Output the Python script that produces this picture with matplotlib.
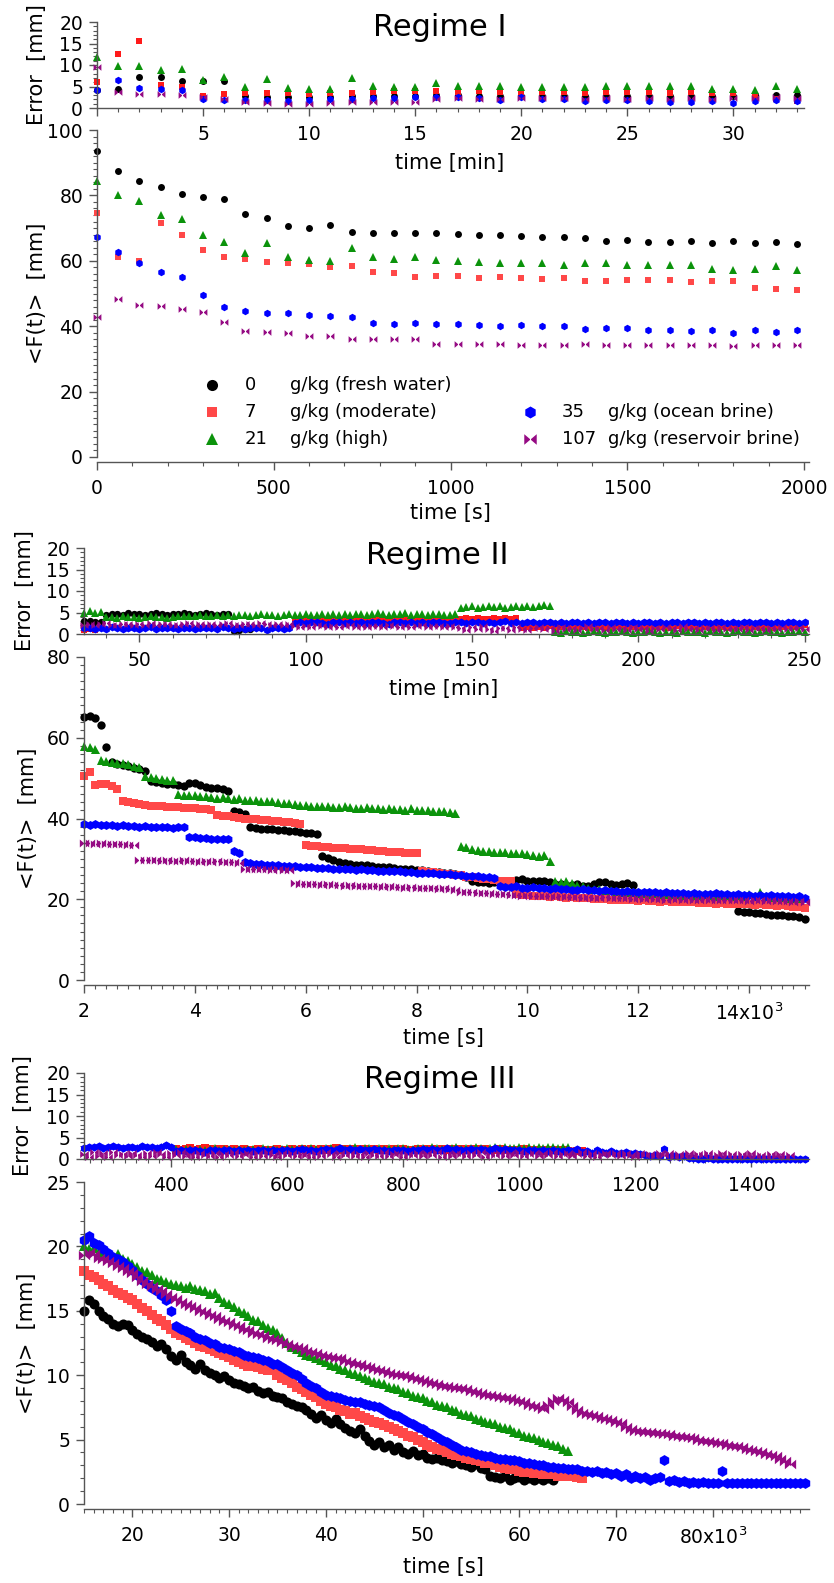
import numpy as np
import matplotlib
matplotlib.use('Agg')
import matplotlib.pyplot as plt
from matplotlib.path import Path
from matplotlib.lines import Line2D
from matplotlib.ticker import MultipleLocator, FuncFormatter

# ---------------- Regime I : one point per minute ----------------
t1_min = list(range(34))

f1_black = [93.5, 87.4, 84.3, 82.6, 80.4, 79.6, 78.9, 74.4, 73.2, 70.5,
            70.0, 70.8, 68.8, 68.4, 68.4, 68.4, 68.4, 68.1, 68.0, 67.9,
            67.7, 67.4, 67.4, 67.1, 66.2, 66.3, 65.9, 65.9, 66.2, 65.4,
            66.2, 65.4, 65.6, 65.0]
f1_red = [74.6, 61.1, 60.0, 71.5, 67.9, 63.3, 61.1, 60.5, 59.5, 59.2,
          59.0, 58.2, 58.5, 56.7, 56.4, 55.1, 55.4, 55.3, 54.6, 55.1,
          54.6, 54.3, 54.6, 53.8, 53.9, 54.1, 54.1, 54.1, 53.6, 53.9,
          53.9, 51.8, 51.5, 51.2]
f1_green = [84.3, 80.0, 78.2, 73.9, 72.7, 67.9, 65.9, 62.5, 65.4, 61.1,
            60.2, 60.0, 63.8, 61.3, 60.4, 61.1, 60.2, 59.9, 59.7, 59.4,
            59.4, 59.2, 58.8, 59.2, 59.2, 58.6, 58.8, 58.8, 58.6, 57.4,
            57.2, 57.4, 58.5, 57.2]
f1_blue = [67.2, 62.6, 59.2, 56.6, 54.9, 49.6, 45.9, 44.5, 44.1, 44.1,
           43.3, 43.1, 42.7, 41.1, 40.8, 41.0, 40.8, 40.8, 40.4, 40.0,
           40.3, 40.1, 40.1, 39.2, 39.3, 39.4, 38.7, 38.7, 38.4, 38.7,
           38.0, 38.7, 38.3, 38.7]
f1_purple = [42.8, 48.2, 46.5, 46.2, 45.3, 44.2, 41.4, 38.5, 38.2, 37.9,
             37.0, 36.9, 36.2, 36.2, 36.2, 36.1, 34.7, 34.6, 34.5, 34.6,
             34.3, 34.4, 34.4, 34.6, 34.1, 34.2, 34.1, 34.1, 34.1, 34.1,
             34.0, 34.1, 34.2, 34.1]

e1_black = [4.2, 4.4, 7.2, 7.3, 6.2, 6.2, 6.2, 2.8, 2.6, 2.5,
            2.5, 2.6, 2.7, 2.8, 2.8, 2.9, 3.0, 3.0, 2.9, 2.8,
            2.9, 2.9, 2.8, 2.7, 2.8, 2.9, 2.8, 2.8, 2.9, 2.8,
            2.9, 3.1, 3.1, 3.1]
e1_red = [6.1, 12.6, 15.6, 5.4, 4.8, 2.7, 3.2, 3.5, 3.5, 3.4,
          3.3, 3.4, 3.6, 3.8, 3.9, 3.9, 4.0, 3.8, 3.9, 3.8,
          3.7, 3.8, 3.7, 3.6, 3.8, 3.7, 3.8, 3.6, 3.7, 3.5,
          3.4, 3.0, 2.0, 1.6]
e1_green = [11.9, 9.8, 9.8, 8.8, 9.1, 6.5, 7.2, 4.8, 6.8, 4.6,
            4.5, 4.4, 7.0, 5.2, 5.0, 5.0, 5.8, 5.2, 5.2, 5.2,
            4.8, 5.0, 5.0, 5.0, 5.2, 5.2, 5.2, 5.2, 5.2, 4.4,
            4.5, 4.2, 5.2, 4.4]
e1_blue = [4.3, 6.4, 4.6, 4.4, 4.1, 2.2, 1.9, 1.9, 1.9, 1.7,
           1.8, 2.1, 2.1, 2.4, 2.4, 2.5, 2.6, 2.5, 2.4, 1.9,
           2.5, 2.1, 2.2, 1.7, 1.8, 1.8, 1.6, 1.5, 1.5, 1.7,
           1.2, 1.6, 1.9, 1.7]
e1_purple = [9.5, 3.8, 3.3, 3.3, 3.1, 2.5, 2.2, 1.3, 1.2, 1.0,
             1.0, 1.2, 1.3, 1.5, 1.5, 1.5, 2.2, 2.3, 2.2, 2.2,
             2.4, 2.3, 2.3, 2.2, 2.3, 2.2, 2.3, 2.2, 2.3, 2.2,
             2.3, 2.4, 2.5, 2.3]

# ---------------- Regime II : 100 s sampling, (start [s], values) ----------------
f2_black = [
    (2000, [65.2, 65.3, 64.9, 63.2, 57.6, 54.0, 53.6, 53.3, 52.9, 52.6,
            52.2, 51.8, 49.3, 49.1, 48.8, 48.6, 48.5, 48.2, 48.0, 48.8,
            48.7, 48.3, 47.9, 47.6, 47.5, 47.3, 46.8, 41.8, 41.5, 41.1,
            37.8, 37.6, 37.5, 37.4, 37.3, 37.2, 37.2, 37.0, 36.8, 36.6,
            36.4, 36.3, 36.1, 30.8, 30.1, 29.6, 29.2, 28.9, 28.7, 28.6,
            28.6, 28.4, 28.2, 28.0, 27.9, 27.9, 27.7, 27.6, 27.5, 27.4,
            27.3, 27.2, 27.0, 26.8, 26.8, 26.6, 26.5, 26.3, 26.0, 25.4,
            24.5, 24.2, 24.2, 24.0, 24.3]),
    (9800, [24.8, 24.9, 24.6, 24.5, 24.6, 24.4, 24.3, 23.8, 23.9, 23.6,
            23.5, 23.8, 23.4, 23.3, 23.9, 24.2, 24.3, 23.8, 23.6, 23.9,
            24.1, 23.6]),
    (13800, [17.0, 16.9, 16.8, 16.6, 16.5, 16.4, 16.2, 16.1, 16.0, 15.9,
             15.9, 15.6, 15.1]),
]
f2_red = [
    (2000, [50.6, 51.5, 48.3, 48.6, 48.5, 48.0, 47.2, 44.3, 44.0, 43.8,
            43.5, 43.4, 43.2, 43.1, 43.0, 42.9, 42.8, 42.8, 42.6, 42.7,
            42.5, 42.4, 42.3, 42.2]),
    (4400, [40.8, 40.6, 40.5, 40.3, 40.2, 40.0, 39.9, 39.8, 39.7, 39.6,
            39.4, 39.3, 39.2, 39.1, 38.9, 38.6]),
    (6000, [33.4, 33.2, 33.1, 33.0, 32.9, 32.8, 32.8, 32.6, 32.5, 32.4,
            32.4, 32.2, 32.1, 32.0, 31.9, 31.8, 31.7, 31.6, 31.5, 31.5,
            31.4]),
    (8100, [27.0, 26.8, 26.7, 26.5, 26.3, 26.2, 26.0, 25.9, 25.6, 25.4,
            25.3, 25.1, 24.9, 24.8, 24.6, 24.5, 24.4]),
    (9800, [21.2, 21.0, 21.1, 20.9, 20.8, 20.8, 20.6, 20.7, 20.5, 20.4,
            20.6, 20.3, 20.2, 20.3, 20.1, 20.0, 20.1, 19.9, 19.8, 19.9,
            19.8, 19.7, 19.6, 19.7, 19.5, 19.6, 19.4, 19.5, 19.3, 19.4,
            19.3, 19.2, 19.3, 19.1, 19.0, 19.1, 18.9, 19.0, 18.9, 18.8,
            18.9, 18.7, 18.8, 18.6, 18.7, 18.5, 18.6, 18.4, 18.5, 18.3,
            18.2, 18.0, 17.8]),
]
f2_green = [
    (2000, [58.0, 57.8, 57.1]),
    (2300, [54.4, 54.2, 54.0, 53.8, 53.7, 53.4, 53.1, 52.7]),
    (3100, [50.6, 50.4, 50.1, 49.8, 49.6, 49.5]),
    (3700, [46.0, 45.9, 45.8, 45.8, 45.6, 45.5, 45.4, 45.2, 45.3, 45.0,
            44.9, 45.0, 44.7, 44.6, 44.6, 44.4, 44.3, 44.3, 44.1, 43.9,
            43.8, 43.5, 43.4, 43.3, 43.1, 43.0, 43.2, 43.0, 42.9, 42.9,
            43.1, 42.8, 42.7, 42.7, 42.9, 42.6, 42.5, 42.4, 42.7, 42.3,
            42.3, 42.2, 42.5, 42.1, 42.0, 42.2, 41.9, 41.8, 41.8, 41.5,
            41.3]),
    (8800, [33.2, 33.0, 32.5, 32.3, 32.0, 31.9, 31.8, 31.7, 31.6, 31.5,
            31.5, 31.4, 31.3, 31.0, 30.8, 30.9, 29.5]),
    (10500, [24.6, 24.3, 24.5, 24.0, 23.6, 23.2, 22.9, 22.6, 22.5, 22.3,
             22.2, 22.0, 21.9, 21.8, 21.8, 21.6]),
    (12100, [21.5, 21.4, 21.6, 21.3, 21.4, 21.2, 21.3, 21.1, 21.2, 21.0,
             21.1, 21.2, 21.0, 20.9, 21.1, 21.0, 20.8, 21.0, 20.9, 21.2,
             20.8, 21.7, 20.7, 20.6, 20.5, 20.6, 20.4, 20.3, 20.2]),
]
f2_blue = [
    (2000, [38.6, 38.5, 38.6, 38.4, 38.3, 38.4, 38.2, 38.3, 38.1, 38.2,
            38.0, 38.1, 37.9, 38.0, 37.8, 37.9, 37.6, 37.8, 37.9]),
    (3900, [35.5, 35.3, 35.2, 35.1, 35.0, 34.9, 34.8, 34.9]),
    (4700, [32.0, 31.4]),
    (4900, [29.3, 29.0, 28.8, 28.8, 28.6, 28.5, 28.4, 28.3, 28.2, 28.2,
            28.0, 27.9, 27.9, 27.8, 27.7, 27.8, 27.6, 27.5, 27.6, 27.4,
            27.3, 27.4, 27.2, 27.2, 27.1, 27.0, 27.1, 26.9, 26.9, 26.8,
            26.7, 26.6, 26.6, 26.5, 26.4, 26.3, 26.2, 26.2, 26.0, 25.9,
            25.8, 25.8, 25.7, 25.6, 25.5, 25.3]),
    (9500, [23.4, 23.1, 23.0, 23.2, 22.9, 22.8, 23.0, 22.7, 22.8, 22.6,
            22.7, 22.5, 22.6, 22.4, 22.3, 22.5, 22.2, 22.3, 22.1, 22.2,
            22.0, 22.1, 21.9, 22.0, 21.8, 21.9, 21.8, 21.7, 21.9, 21.6,
            21.7, 21.5, 21.6, 21.5, 21.4, 21.6, 21.3, 21.4, 21.2, 21.5,
            21.3, 21.2, 21.1, 21.3, 21.0, 21.1, 20.9, 21.0, 20.8, 21.1,
            20.9, 20.7, 20.8, 20.6, 20.7, 20.4]),
]
f2_purple = [
    (2000, [34.0, 33.9, 33.8, 33.9, 33.7, 33.8, 33.6, 33.7, 33.5, 33.5]),
    (3000, [29.8, 29.7, 29.6, 29.7, 29.5, 29.6, 29.5, 29.4, 29.6, 29.5,
            29.4, 29.3, 29.5, 29.3, 29.4, 29.2, 29.3, 29.2, 29.1]),
    (4900, [27.6, 27.5, 27.6, 27.4, 27.5, 27.3, 27.4, 27.3, 27.2]),
    (5800, [24.1, 23.9, 23.8, 23.9, 23.7, 23.6, 23.7, 23.5, 23.6, 23.4,
            23.5, 23.3, 23.4, 23.3, 23.2, 23.3, 23.1, 23.2, 23.0, 23.1,
            22.9, 23.0, 22.8, 22.9, 22.7, 22.8, 22.6, 22.7, 22.5, 22.4]),
    (8800, [21.9, 21.7, 21.8, 21.6, 21.5, 21.6, 21.4, 21.3, 21.4]),
    (9700, [21.1, 21.0, 20.9, 21.0, 20.8, 20.9, 20.7, 20.8, 20.6, 20.7,
            20.6, 20.5, 20.6, 20.4, 20.5, 20.4, 20.3, 20.5, 20.3, 20.2,
            20.4, 20.2, 20.1, 20.3, 20.1, 20.2, 20.0, 20.1, 19.9, 20.1,
            20.0, 19.9, 20.0, 19.8, 19.9, 20.0, 19.8, 19.9, 19.7, 19.9,
            19.8, 19.7, 19.8, 19.6, 19.8, 19.7, 19.6, 19.7, 19.5, 19.6,
            19.5, 19.4, 19.5, 19.3]),
]

e2_black = [
    (2000, [3.0, 3.1, 2.9, 2.8]),
    (2400, [4.4, 4.6, 4.7, 4.5, 4.8, 4.6, 4.7, 4.5, 4.6, 4.8,
            4.7, 4.5, 4.6, 4.7, 4.9, 4.6, 4.5, 4.7, 4.8, 4.6,
            4.5, 4.7, 4.6]),
    (4700, [0.8, 1.0, 1.1, 1.2]),
]
e2_red = [
    (2000, [1.0, 1.2, 0.9]),
    (5800, [3.2, 3.4, 3.3, 3.1, 3.4, 3.2, 3.3, 3.5, 3.2, 3.3,
            3.4, 3.2, 3.3, 3.1, 3.4, 3.3, 3.2, 3.4, 3.3, 3.5,
            3.2, 3.3, 3.4, 3.2, 3.3, 3.1, 3.4, 3.3, 3.2, 3.4]),
    (8800, [3.5, 3.7, 3.6, 3.8, 3.5, 3.6, 3.7, 3.5, 3.8, 3.6, 3.7]),
    (9900, [1.5, 1.7, 1.4, 1.6, 1.5, 1.8, 1.4, 1.6, 1.5, 1.7,
            1.4, 1.6, 1.5, 1.7, 1.6, 1.4, 1.5, 1.8, 1.6, 1.5,
            1.7, 1.4, 1.6, 1.5, 1.7, 1.6, 1.4, 1.5, 1.8, 1.6,
            1.5, 1.7, 1.4, 1.6, 1.5, 1.7, 1.6, 1.4, 1.5, 1.8,
            1.6, 1.5, 1.7, 1.4, 1.6, 1.5, 1.7, 1.6, 1.8, 1.7,
            1.9, 2.0]),
]
e2_green = [
    (2000, [5.0, 5.3, 4.8, 5.2]),
    (2400, [3.9, 4.0, 3.8, 4.1, 3.9, 4.0, 3.8, 3.9, 4.1, 4.0,
            3.9, 3.8, 4.0]),
    (3700, [4.2, 4.3, 4.1, 4.3, 4.4, 4.2, 4.3, 4.5, 4.3, 4.4,
            4.2, 4.4, 4.5, 4.3, 4.4, 4.6, 4.4, 4.5, 4.3, 4.5,
            4.6, 4.4, 4.5, 4.7, 4.5, 4.4, 4.6, 4.5, 4.7, 4.5,
            4.6, 4.4, 4.6, 4.7, 4.5, 4.6, 4.8, 4.6, 4.5, 4.7,
            4.6, 4.8, 4.5, 4.7, 4.6, 4.5, 4.7, 4.6, 4.5, 4.4,
            4.6]),
    (8800, [6.0, 6.2, 6.4, 6.1, 6.3, 6.5, 6.2, 6.4, 6.1, 6.3,
            6.6, 6.2, 6.4, 6.3, 6.5, 6.7, 6.4]),
    (10500, [0.5, 0.3, 0.6, 0.4, 0.5, 0.3, 0.4, 0.6, 0.5, 0.3,
             0.4, 0.5, 0.6, 0.4, 0.3, 0.5, 0.4, 0.6, 0.5, 0.3,
             0.4, 0.5, 0.3, 0.6, 0.4, 0.5, 0.4, 0.3, 0.6, 0.5,
             0.4, 0.3, 0.5, 0.6, 0.4, 0.5, 0.3, 0.4, 0.6, 0.5,
             0.4, 0.3, 0.5, 0.4, 0.6, 0.5]),
]
e2_blue = [
    (2000, [1.3, 1.5, 1.2, 1.4, 1.1, 1.6, 1.3, 1.2, 1.5, 1.4,
            1.2, 1.3, 1.6, 1.1, 1.4, 1.3, 1.5, 1.2, 1.4, 1.3,
            1.1, 1.5, 1.3, 1.4, 1.2, 1.6, 1.3, 1.1, 1.4, 1.2,
            1.5, 1.3, 1.4, 1.0, 1.3, 1.5, 1.2, 1.4]),
    (5800, [2.6, 2.8, 2.5, 2.7, 2.9, 2.6, 2.4, 2.7, 2.8, 2.5,
            2.7, 2.6, 2.9, 2.5, 2.7, 2.8, 2.6, 2.4, 2.7, 2.9,
            2.6, 2.8, 2.5, 2.7, 2.6, 2.8, 2.9, 2.6, 2.5, 2.7,
            2.8, 2.6, 2.9, 2.7, 2.5, 2.8, 2.6, 2.7, 3.0, 2.6,
            2.8, 2.5, 2.7, 2.9, 2.6, 2.8, 2.7, 2.5, 2.8, 2.6,
            2.9, 2.7, 2.6, 2.8, 2.5, 2.7, 2.9, 2.6, 2.8, 2.7,
            2.5, 2.8, 2.6, 2.9, 2.7, 2.6, 2.8, 2.5, 2.7, 2.9,
            2.6, 2.8, 2.7, 2.5, 2.8, 2.6, 2.9, 2.7, 2.6, 2.8,
            2.5, 2.7, 2.9, 2.6, 2.8, 2.7, 2.5, 2.8, 2.6, 2.7,
            2.9, 2.6, 2.7]),
]
e2_purple = [
    (2000, [2.2, 2.4, 2.1, 2.3, 2.5, 2.2, 2.0, 2.3, 2.4, 2.1,
            2.3, 2.2, 2.5, 2.1, 2.3, 2.4, 2.2, 2.0, 2.3, 2.5,
            2.2, 2.4, 2.1, 2.3, 2.2, 2.4, 2.5, 2.2, 2.1, 2.3,
            2.4, 2.2, 2.5, 2.3, 2.1, 2.4, 2.2, 2.3]),
    (5800, [1.8, 1.6, 1.9, 1.7, 2.0, 1.8, 1.6, 1.9, 1.7, 1.8,
            2.0, 1.7, 1.8, 1.6, 1.9, 1.8, 1.7, 2.0, 1.8, 1.6,
            1.9, 1.7, 1.8, 2.0, 1.7, 1.9, 1.8, 1.6, 1.9, 1.7]),
    (8800, [1.3, 0.9, 1.6, 1.1, 1.8, 1.2, 0.8, 1.5, 1.3, 1.0,
            1.7, 1.2, 0.9, 1.4, 1.6, 1.1, 1.3, 0.8, 1.7, 1.2,
            1.5, 1.0, 1.3, 1.8, 1.1, 1.4, 0.9, 1.6, 1.2, 1.3,
            1.0, 1.7, 1.2, 1.5, 0.8, 1.4, 1.1, 1.6, 1.3, 0.9,
            1.8, 1.2, 1.4, 1.0, 1.5, 1.3, 0.9, 1.7, 1.1, 1.4,
            1.2, 1.6, 1.0, 1.3, 1.5, 0.9, 1.4, 1.2, 1.7, 1.1,
            1.3, 1.5, 1.2]),
]

# ---------------- Regime III : 500 s sampling, (start [s], values) ----------------
f3_black = [(15000, [
    15.0, 15.8, 15.5, 15.0, 14.6, 14.4, 14.0, 13.8, 14.0, 13.9,
    13.5, 13.2, 13.0, 12.8, 12.6, 12.3, 12.4, 12.0, 11.5, 11.2,
    11.6, 11.0, 10.8, 10.5, 10.9, 10.4, 10.2, 10.0, 9.8, 9.9,
    9.6, 9.4, 9.3, 9.2, 9.0, 9.1, 8.8, 8.6, 8.7, 8.4,
    8.3, 8.2, 7.9, 7.8, 7.6, 7.5, 7.3, 7.0, 6.7, 6.9,
    6.5, 6.3, 6.6, 6.2, 5.9, 5.7, 5.5, 5.8, 5.3, 4.9,
    4.6, 4.8, 4.4, 4.6, 4.2, 4.4, 4.0, 3.9, 4.1, 3.8,
    3.9, 3.6, 3.5, 3.6, 3.4, 3.3, 3.2, 3.3, 3.1, 3.0,
    2.9, 3.1, 2.8, 2.7, 2.2, 2.1, 2.0, 2.2, 1.9, 2.0,
    2.1, 1.9, 2.0, 1.9, 2.0, 1.9, 2.0, 1.9])]
f3_red = [(15000, [
    18.1, 17.8, 17.6, 17.4, 17.1, 16.9, 16.6, 16.4, 16.2, 16.0,
    15.8, 15.5, 15.2, 15.0, 14.7, 14.4, 14.2, 13.9, 13.6, 13.3,
    13.1, 12.9, 12.7, 12.5, 12.3, 12.2, 12.0, 11.9, 11.7, 11.6,
    11.4, 11.2, 11.0, 10.9, 10.7, 10.8, 10.6, 10.5, 10.4, 10.5,
    10.0, 9.8, 9.6, 9.4, 9.1, 8.9, 8.7, 8.5, 8.3, 8.0,
    7.8, 7.6, 7.5, 7.3, 7.2, 7.0, 7.1, 6.8, 6.7, 6.5,
    6.4, 6.3, 6.1, 6.0, 5.8, 5.7, 5.5, 5.3, 5.2, 5.0,
    4.8, 4.6, 4.4, 4.3, 4.2, 4.0, 3.9, 3.8, 3.7, 3.6,
    3.5, 3.4, 3.3, 3.2, 3.2, 3.0, 2.9, 2.8, 2.7, 2.7,
    2.6, 2.5, 2.5, 2.4, 2.4, 2.3, 2.3, 2.3, 2.2, 2.3,
    2.2, 2.2, 2.1, 2.0])]
f3_green = [(15000, [
    20.0, 19.8, 19.9, 19.6, 19.4, 19.5, 19.2, 19.4, 19.0, 18.9,
    18.6, 18.4, 18.1, 18.0, 17.8, 17.5, 17.4, 17.2, 17.1, 17.0,
    16.9, 16.8, 16.9, 16.7, 16.6, 16.5, 16.3, 16.4, 16.0, 15.7,
    15.5, 15.3, 15.0, 14.8, 14.6, 14.3, 14.2, 13.9, 13.7, 13.5,
    13.3, 12.9, 12.5, 12.2, 12.0, 11.8, 11.6, 11.5, 11.3, 11.2,
    11.0, 10.8, 10.7, 10.5, 10.4, 10.2, 10.1, 9.9, 9.8, 9.6,
    9.5, 9.4, 9.3, 9.1, 9.0, 8.9, 8.7, 8.6, 8.4, 8.3,
    8.2, 8.0, 7.9, 7.7, 7.6, 7.5, 7.3, 7.2, 7.0, 6.9,
    6.8, 6.6, 6.5, 6.4, 6.3, 6.2, 6.0, 5.9, 5.8, 5.6,
    5.5, 5.3, 5.2, 5.1, 5.0, 4.8, 4.7, 4.6, 4.5, 4.3,
    4.1])]
f3_blue = [(15000, [
    20.5, 20.8, 20.3, 20.1, 19.8, 19.5, 19.2, 19.0, 18.8, 18.5,
    18.2, 17.8, 17.4, 17.1, 16.8, 16.5, 16.2, 15.8, 15.0, 13.8,
    13.6, 13.4, 13.3, 13.0, 12.8, 12.7, 12.5, 12.4, 12.2, 12.1,
    12.0, 11.9, 11.8, 11.6, 11.5, 11.4, 11.3, 11.2, 11.1, 10.9,
    10.9, 10.6, 10.4, 10.2, 10.0, 9.7, 9.4, 9.2, 9.0, 8.7,
    8.5, 8.4, 8.3, 8.2, 8.1, 8.0, 7.9, 7.9, 7.8, 7.7,
    7.6, 7.5, 7.3, 7.1, 6.9, 6.8, 6.6, 6.4, 6.2, 6.0,
    5.8, 5.6, 5.4, 5.2, 5.0, 4.8, 4.6, 4.4, 4.2, 4.1,
    4.0, 3.9, 3.8, 3.7, 3.7, 3.6, 3.5, 3.5, 3.4, 3.4,
    3.3, 3.2, 3.2, 3.1, 3.0, 3.0, 2.9, 2.9, 2.8, 2.8,
    2.7, 2.7, 2.7, 2.6, 2.6, 2.5, 2.6, 2.4, 2.5, 2.3,
    2.4, 2.2, 2.3, 2.0, 2.2, 2.0, 2.1, 1.9, 2.0, 2.1,
    3.4, 1.8, 1.9, 1.7, 1.8, 1.6, 1.7, 1.6, 1.7, 1.6,
    1.6, 1.6, 2.6, 1.6, 1.6, 1.6, 1.6, 1.6, 1.6, 1.6,
    1.6, 1.6, 1.6, 1.6, 1.6, 1.6, 1.6, 1.6, 1.6, 1.6])]
f3_purple = [(15000, [
    19.3, 19.6, 19.4, 19.1, 19.0, 18.9, 18.7, 18.5, 18.3, 18.1,
    17.9, 17.6, 17.3, 17.1, 16.9, 16.7, 16.5, 16.3, 16.1, 15.9,
    15.7, 15.5, 15.4, 15.2, 15.0, 14.9, 14.7, 14.6, 14.4, 14.2,
    14.1, 13.9, 13.8, 13.6, 13.5, 13.3, 13.2, 13.1, 12.9, 12.8,
    12.7, 12.6, 12.4, 12.3, 12.2, 12.1, 11.9, 11.8, 11.7, 11.6,
    11.5, 11.4, 11.3, 11.3, 11.1, 11.0, 10.9, 10.9, 10.7, 10.6,
    10.5, 10.4, 10.3, 10.2, 10.1, 10.0, 10.0, 9.9, 9.8, 9.7,
    9.6, 9.5, 9.4, 9.3, 9.2, 9.2, 9.1, 9.0, 9.0, 8.9,
    8.8, 8.7, 8.6, 8.5, 8.5, 8.4, 8.3, 8.2, 8.2, 8.1,
    8.0, 7.9, 7.7, 7.6, 7.5, 7.4, 7.7, 8.0, 8.2, 8.1,
    7.9, 7.6, 7.3, 7.1, 7.0, 6.9, 6.8, 6.7, 6.6, 6.5,
    6.4, 6.3, 6.0, 5.8, 5.7, 5.7, 5.6, 5.6, 5.5, 5.5,
    5.4, 5.4, 5.3, 5.3, 5.2, 5.2, 5.1, 5.0, 4.9, 4.9,
    4.8, 4.7, 4.7, 4.6, 4.5, 4.5, 4.4, 4.3, 4.2, 4.1,
    4.0, 3.9, 3.8, 3.7, 3.5, 3.3, 3.1])]

e3_black = []
e3_red = [(24500, [
    2.4, 2.2, 2.3, 2.5, 2.2, 2.4, 2.6, 2.3, 2.2, 2.4,
    2.3, 2.1, 2.3, 2.2, 2.4, 2.2, 2.1, 2.3, 2.2, 2.0,
    2.2, 2.3, 2.1, 2.2, 2.4, 2.2, 2.3, 2.1, 2.3, 2.2,
    2.4, 2.2, 2.3, 2.5, 2.2, 2.4, 2.3, 2.2, 2.4, 2.3,
    2.2, 2.3, 2.1, 2.3, 2.2, 2.4, 2.2, 2.3, 2.1, 2.2,
    2.3, 2.2, 2.4, 2.3, 2.1, 2.3, 2.2, 2.4, 2.2, 2.3,
    2.1, 2.3, 2.2, 2.4, 2.3, 2.2, 2.1, 2.3, 2.2, 2.0,
    2.2, 2.1, 2.3, 2.0, 2.2, 2.1, 1.9, 2.1, 2.0, 1.8,
    2.0, 1.9, 1.7, 1.9, 1.8])]
e3_green = [(24500, [
    2.3, 2.2, 2.4, 2.3, 2.1, 2.4, 2.2, 2.3, 2.5, 2.2,
    2.3, 2.4, 2.2, 2.3, 2.1, 2.4, 2.3, 2.2, 2.5, 2.3,
    2.4, 2.2, 2.3, 2.5, 2.4, 2.3, 2.6, 2.4, 2.5, 2.3,
    2.4, 2.6, 2.5, 2.3, 2.6, 2.4, 2.5, 2.7, 2.4, 2.6,
    2.5, 2.4, 2.6, 2.3, 2.5, 2.4, 2.6, 2.5, 2.3, 2.4,
    2.6, 2.5, 2.4, 2.7, 2.5, 2.4, 2.6, 2.5, 2.7, 2.4,
    2.6, 2.5, 2.7, 2.6, 2.4, 2.6, 2.8, 2.5, 2.7, 2.6,
    2.5, 2.7, 2.6, 2.8, 2.5, 2.7, 2.6, 2.8, 2.7, 2.6,
    2.8, 2.7])]
e3_blue = [
    (15000, [2.6, 2.9, 2.7, 3.0, 2.5, 2.8, 3.1, 2.7, 2.6, 2.9,
             2.8, 2.5, 3.0, 2.7, 2.9, 2.6, 2.8, 3.2, 2.7]),
    (24500, [1.9, 2.1, 1.8, 2.0, 2.2, 1.9, 1.7, 2.0, 2.1, 1.8,
             2.0, 2.2, 1.9, 2.1, 1.8, 2.0, 1.9, 2.2, 2.0, 1.8,
             2.1, 1.9, 2.0, 2.2, 1.9, 2.1, 2.3, 2.0, 2.2, 1.9,
             2.1, 2.4, 2.0, 2.2, 2.5, 2.1, 2.3, 2.0, 2.4, 2.2,
             2.0, 2.3, 2.1, 2.2, 1.9, 2.1, 2.0, 2.2, 1.9, 2.1,
             2.0, 2.3, 2.1, 2.4, 2.2, 2.0, 2.6, 2.1, 2.3, 2.0,
             2.2, 2.4, 2.1, 2.3, 2.0, 2.2, 2.5, 2.1, 2.3, 2.2,
             2.0, 2.1, 1.9, 2.2, 2.0, 1.8, 2.1, 1.9, 2.0, 1.8,
             1.9, 2.0]),
    (65500, [1.8, 2.3, 1.6, 1.9, 1.5, 2.0, 1.7, 1.4, 1.8, 1.5,
             1.3, 1.6, 1.2, 1.4, 1.1]),
    (73000, [0.9, 0.6, 1.0, 0.7, 2.3, 0.5, 0.8, 0.4, 0.6, 0.3]),
    (78000, [0.2, 0.1, 0.1, 0.2, 0.1, 0.1, 0.1, 0.1, 0.1, 0.1,
             0.1, 0.1, 0.1, 0.1, 0.1, 0.1, 0.1, 0.1, 0.1, 0.1,
             0.1, 0.1, 0.1, 0.1]),
]
e3_purple = [(15000, [
    1.1, 0.5, 1.6, 0.8, 1.3, 0.4, 1.7, 0.9, 1.2, 0.6,
    1.5, 1.0, 0.4, 1.4, 0.8, 1.7, 1.1, 0.5, 1.3, 0.9,
    1.6, 0.6, 1.2, 0.4, 1.5, 1.0, 0.7, 1.4, 0.5, 1.2,
    0.9, 1.6, 0.6, 1.1, 1.4, 0.5, 1.3, 0.8, 1.6, 1.0,
    0.4, 1.3, 0.9, 1.5, 0.6, 1.2, 1.0, 0.5, 1.4, 0.8,
    1.6, 1.1, 0.5, 1.3, 0.9, 1.5, 0.7, 1.2, 0.4, 1.4,
    1.0, 0.6, 1.6, 0.8, 1.2, 1.5, 0.5, 1.1, 0.9, 1.4,
    0.6, 1.3, 1.0, 1.7, 0.5, 1.2, 0.8, 1.5, 1.1, 0.6,
    1.4, 0.9, 1.6, 0.5, 1.2, 1.0, 1.5, 0.7, 1.3, 0.9,
    1.6, 0.8, 1.2, 1.5, 0.6, 1.3, 1.0, 1.7, 0.7, 1.2,
    1.4, 0.6, 1.1, 1.6, 0.8, 1.3, 0.5, 1.2, 1.5, 0.9,
    1.3, 0.7, 1.5, 1.0, 0.5, 1.4, 0.9, 1.2, 0.6, 1.3,
    1.0, 1.4, 0.5, 1.1, 0.8, 1.3, 0.6, 1.2, 0.9, 1.4,
    0.5, 1.0, 1.3, 0.7, 1.2, 0.4, 1.1, 0.8, 1.3, 0.6,
    1.0, 0.4, 1.2, 0.7, 1.1, 0.5, 0.9])]

salinity = ['0', '7', '21', '35', '107']
descr = ['g/kg (fresh water)', 'g/kg (moderate)', 'g/kg (high)',
         'g/kg (ocean brine)', 'g/kg (reservoir brine)']

# ---------------- styling ----------------
bowtie = Path([(-1, -0.85), (0, 0), (-1, 0.85), (-1, -0.85),
               (1, -0.85), (0, 0), (1, 0.85), (1, -0.85)],
              [Path.MOVETO, Path.LINETO, Path.LINETO, Path.CLOSEPOLY] * 2)
markers = ['o', 's', '^', 'h', bowtie]
colors = ['#000000', '#ff4848', '#0b930b', '#0000ff', '#950a83']
err_colors = ['#000000', '#ff1a1a', '#0b930b', '#0000ff', '#950a83']
msizes = [5.0, 4.7, 5.4, 5.4, 5.6]

plt.rcParams['font.family'] = ['DejaVu Sans']
W, H = 834, 1583
fig = plt.figure(figsize=(W / 100, H / 100), dpi=100)
GRAY = '#555555'


def add_ax(left, top, right, bottom):
    return fig.add_axes([left / W, 1 - bottom / H, (right - left) / W, (bottom - top) / H])


def expand(segs, step):
    t, v = [], []
    for start, vals in segs:
        t.extend(start + step * np.arange(len(vals)))
        v.extend(vals)
    return np.array(t, float), np.array(v, float)


def style(ax, xlim, ylim, xmaj, xmin, ymaj, ymin, drop=0):
    ax.set_xlim(xlim)
    ax.set_ylim(ylim)
    ax.patch.set_visible(False)
    for s in ('top', 'right'):
        ax.spines[s].set_visible(False)
    for s in ('left', 'bottom'):
        ax.spines[s].set_color(GRAY)
        ax.spines[s].set_linewidth(1.0)
    if drop:
        ax.spines['bottom'].set_position(('outward', drop))
    ax.xaxis.set_major_locator(MultipleLocator(xmaj))
    ax.xaxis.set_minor_locator(MultipleLocator(xmin))
    ax.yaxis.set_major_locator(MultipleLocator(ymaj))
    ax.yaxis.set_minor_locator(MultipleLocator(ymin))
    ax.tick_params(which='major', length=6, width=1, color=GRAY, labelsize=13.5)
    ax.tick_params(which='minor', length=3, width=0.8, color=GRAY)
    ax.tick_params(axis='x', which='major', pad=6.5)
    ax.tick_params(axis='y', which='major', pad=4)


def scatter(ax, series, cols, scale=1.0):
    for i, (t, v) in enumerate(series):
        ax.plot(t, v, ls='none', marker=markers[i], ms=msizes[i] * scale,
                mfc=cols[i], mec=cols[i], mew=0, clip_on=False)


def kilo(last):
    return FuncFormatter(lambda v, p: ('%dx10$^{3}$' % round(v / 1000)) if round(v / 1000) == last
                         else '%d' % round(v / 1000))


def ftext(x, y, s, **kw):
    fig.text(x / W, 1 - y / H, s, **kw)


# ---- Regime I ----
ax = add_ax(97, 22, 804, 108)
scatter(ax, [(t1_min, e) for e in [e1_black, e1_red, e1_green, e1_blue, e1_purple]], err_colors)
style(ax, (0, 33.33), (0, 20), 5, 1, 5, 1)
ax.xaxis.set_major_formatter(FuncFormatter(lambda v, p: '' if v == 0 else '%d' % v))

ax = add_ax(97, 130, 809, 457)
t1_s = np.array(t1_min) * 60
scatter(ax, [(t1_s, f) for f in [f1_black, f1_red, f1_green, f1_blue, f1_purple]], colors)
style(ax, (0, 2014), (0, 100), 500, 100, 20, 2, drop=3.6)

# legend drawn by hand (Igor style, two columns)
leg = [(0, 212, 245, 290, 385), (1, 212, 245, 290, 412), (2, 212, 245, 290, 439),
       (3, 530, 562, 608, 412), (4, 530, 562, 608, 439)]
for i, xm, xn, xt, y in leg:
    fig.add_artist(Line2D([xm / W], [1 - y / H], transform=fig.transFigure, ls='none',
                          marker=markers[i], ms=msizes[i] * 1.6, mfc=colors[i],
                          mec=colors[i], mew=0))
    ftext(xn, y, salinity[i], fontsize=13, va='center', ha='left')
    ftext(xt, y, descr[i], fontsize=13, va='center', ha='left')

# ---- Regime II ----
ax = add_ax(84, 548, 809, 634)
ser = []
for s in [e2_black, e2_red, e2_green, e2_blue, e2_purple]:
    t, v = expand(s, 100)
    ser.append((t / 60, v))
scatter(ax, ser, err_colors, 1.05)
style(ax, (2000 / 60, 15080 / 60), (0, 20), 50, 10, 5, 1)

ax = add_ax(84, 657, 809, 980)
scatter(ax, [expand(s, 100) for s in [f2_black, f2_red, f2_green, f2_blue, f2_purple]], colors, 1.2)
style(ax, (2000, 15080), (0, 80), 2000, 200, 20, 2, drop=3.6)
ax.xaxis.set_major_formatter(kilo(14))

# ---- Regime III ----
ax = add_ax(84, 1073, 809, 1159)
ser = []
for s in [e3_black, e3_red, e3_green, e3_blue, e3_purple]:
    t, v = expand(s, 500)
    ser.append((t / 60, v))
scatter(ax, ser, err_colors, 1.1)
style(ax, (250, 89950 / 60), (0, 20), 200, 20, 5, 1)

ax = add_ax(84, 1182, 809, 1504)
scatter(ax, [expand(s, 500) for s in [f3_black, f3_red, f3_green, f3_blue, f3_purple]], colors, 1.45)
style(ax, (15000, 89950), (0, 25), 10000, 1000, 5, 1, drop=3.6)
ax.xaxis.set_major_formatter(kilo(80))

# ---- titles and axis labels ----
for x, y, s in [(440, 27, 'Regime I'), (437, 555, 'Regime II'), (440, 1080, 'Regime III')]:
    ftext(x, y, s, fontsize=22, ha='center', va='center')
for x, y, s in [(450, 163, 'time [min]'), (450, 513, 'time [s]'), (444, 689, 'time [min]'),
                (443, 1038, 'time [s]'), (443, 1567, 'time [s]')]:
    ftext(x, y, s, fontsize=15, ha='center', va='center')
for x, y, s in [(37, 65, 'Error  [mm]'), (37, 293, '<F(t)>  [mm]'),
                (25, 591, 'Error  [mm]'), (28, 818, '<F(t)>  [mm]'),
                (23, 1116, 'Error  [mm]'), (27, 1343, '<F(t)>  [mm]')]:
    ftext(x, y, s, fontsize=15, ha='center', va='center', rotation=90)

fig.savefig('out.png', dpi=100)
